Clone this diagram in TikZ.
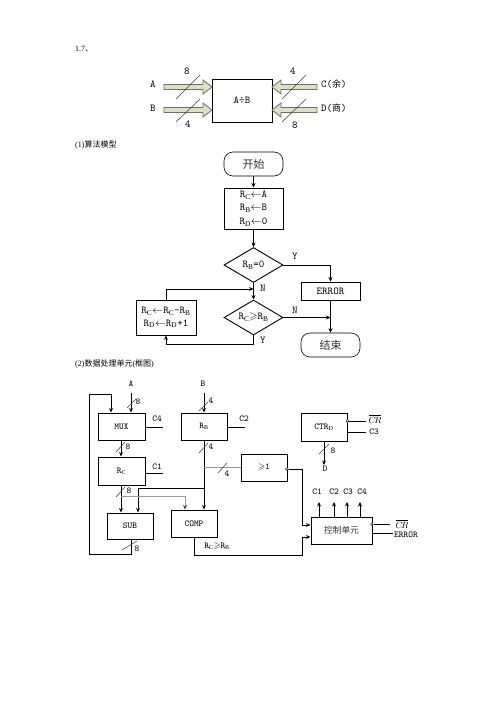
\documentclass[tikz,border=0pt]{standalone}
\usepackage{amssymb}
\usepackage{fontspec}
\setmainfont{Liberation Serif}
\newfontfamily\cjk{Noto Sans CJK SC}
\usetikzlibrary{arrows.meta,shapes.geometric,calc}
\definecolor{fatfill}{HTML}{DDE0C8}
\definecolor{fatedge}{HTML}{6E7260}
\newcommand\fatarrow[3]{\draw[fatstyle] (#1) ++(0,-2.5) -- ++(#2,0) -- ++(0,-4.5) -- ++(#3,7) -- ++(-#3,7) -- ++(0,-4.5) -- ++(-#2,0) -- cycle;}
\newcommand\subl[1]{$_{\mathrm{#1}}$}
\tikzset{
  x=1pt,y=-1pt,
  line/.style={line width=1pt,black},
  arr/.style={line,-{Stealth[length=4.5pt,width=4pt]}},
  thinline/.style={line width=0.55pt,black!75},
  grayline/.style={line width=0.9pt,black!40},
  grayarr/.style={grayline,-{Stealth[length=4.5pt,width=4pt,color=black!75]}},
  fatstyle/.style={draw=fatedge,fill=fatfill,line width=0.8pt},
  box/.style={draw,line width=1pt,rectangle,inner sep=0pt,align=center,font=\ttfamily\fontsize{10.5}{12.5}\selectfont},
  sbox/.style={draw,line width=1pt,rectangle,inner sep=0pt,align=center,font=\ttfamily\fontsize{9}{10}\selectfont},
  term/.style={draw,line width=0.6pt,rectangle,rounded corners=9pt,inner sep=0pt,minimum width=59pt,minimum height=24pt,font=\cjk\fontsize{11}{13}\selectfont,text=black!80},
  dia/.style={draw,line width=0.9pt,diamond,aspect=1.69,inner sep=0pt,minimum width=59pt,minimum height=35pt,font=\ttfamily\fontsize{10.5}{12}\selectfont},
  lab/.style={inner sep=0pt,font=\ttfamily\fontsize{10.5}{12}\selectfont},
  slab/.style={inner sep=0pt,font=\ttfamily\fontsize{9}{10}\selectfont},
  txt/.style={inner sep=0pt,anchor=west,font=\fontsize{8}{10}\selectfont},
  bub/.style={circle,draw,line width=0.5pt,fill=white,inner sep=0pt,minimum size=2.8pt},
}
\begin{document}
\begin{tikzpicture}
\useasboundingbox (0,0) rectangle (496,702);
% headings
\node[txt] (t1) at (75,49) {1.7{\cjk 、}};
\node[txt] (t2) at (75,145) {(1){\cjk 算法模型}};
\node[txt] (t3) at (75,364) {(2){\cjk 数据处理单元}({\cjk 框图})};

% --- block ---
\node[box,minimum width=60pt,minimum height=43pt] (div) at (242,100.5) {A÷B};
\coordinate (ain) at (164,87); \coordinate (bin) at (164,110);
\coordinate (cin) at (317,87); \coordinate (din) at (317,110);
\fatarrow{ain}{39}{9} \fatarrow{bin}{39}{9}
\fatarrow{cin}{-36}{-9} \fatarrow{din}{-36}{-9}
\coordinate (s1a) at (176,99); \coordinate (s1b) at (200,75);
\coordinate (s2a) at (176,122); \coordinate (s2b) at (200,99);
\coordinate (s3a) at (282,99); \coordinate (s3b) at (306,75);
\coordinate (s4a) at (282,122); \coordinate (s4b) at (306,99);
\draw[thinline] (s1a)--(s1b); \draw[thinline] (s2a)--(s2b);
\draw[thinline] (s3a)--(s3b); \draw[thinline] (s4a)--(s4b);
\node[lab] (l8a) at (187,71) {8};
\node[lab] (l4a) at (188,124.5) {4};
\node[lab] (l4b) at (293,71) {4};
\node[lab] (l8b) at (295,125) {8};
\node[lab] (la) at (153,84) {A};
\node[lab] (lb) at (153,108) {B};
\node[lab,anchor=west] (lc) at (321,84) {C({\cjk\fontsize{9}{10}\selectfont 余})};
\node[lab,anchor=west] (ld) at (321,108) {D({\cjk\fontsize{9}{10}\selectfont 商})};

% --- flowchart ---
\node[term] (start) at (253.5,164) {开始};
\node[box,minimum width=59pt,minimum height=41pt,font=\ttfamily\fontsize{10.5}{13.5}\selectfont] (init) at (253.5,208.5)
  {R\subl{C}$\leftarrow$A\\R\subl{B}$\leftarrow$B\\R\subl{D}$\leftarrow$0};
\node[dia] (d1) at (253.5,265) {R\subl{B}=0};
\node[dia] (d2) at (253.5,317.5) {R\subl{C}$\geqslant$R\subl{B}};
\node[box,minimum width=60pt,minimum height=35pt] (upd) at (166,317.5)
  {R\subl{C}$\leftarrow$R\subl{C}-R\subl{B}\\R\subl{D}$\leftarrow$R\subl{D}+1};
\node[box,minimum width=59pt,minimum height=18pt] (err) at (330.5,291) {ERROR};
\node[term] (end) at (330.5,345) {结束};
\draw[arr] (start)--(init);
\draw[arr] (init)--(d1);
\draw[arr] (d1.east)-|(err.north);
\draw[arr] (d1.south)--(d2.north);
\draw[arr] (err)--(end);
\draw[arr] (d2.east)--(d2.east-|err);
\coordinate (ubot) at (d2.south|-0,344);
\draw[arr] (d2.south)--(ubot)-|(upd.south);
\coordinate (jn) at (d2.north|-0,289);
\draw[arr] (upd.north)|-(jn);
\node[lab] (ly1) at (295,256) {Y};
\node[lab] (ln1) at (263,288) {N};
\node[lab] (ln2) at (295,310) {N};
\node[lab] (ly2) at (263,340) {Y};

% --- data unit ---
\node[sbox,minimum width=47pt,minimum height=27pt] (mux) at (121.5,426.5) {MUX};
\node[sbox,minimum width=46pt,minimum height=27pt] (rb) at (204,426.5) {R\subl{B}};
\node[sbox,minimum width=47pt,minimum height=28pt] (rc) at (121.5,471) {R\subl{C}};
\node[sbox,minimum width=46pt,minimum height=26pt] (sub) at (130,526) {SUB};
\node[sbox,minimum width=46pt,minimum height=27pt] (comp) at (194,523.5) {COMP};
\node[sbox,minimum width=46pt,minimum height=28pt] (ctr) at (324,427) {CTR\subl{D}};
\node[sbox,minimum width=46pt,minimum height=27pt] (ge) at (264,467.5) {$\geqslant$1};
\node[sbox,minimum width=61pt,minimum height=27pt,font=\cjk\fontsize{8.7}{10}\selectfont,text=black!80] (ctl) at (341.5,530.5) {控制单元};

\node[slab] (na) at (131,384) {A};
\node[slab] (nb) at (203,384) {B};
\coordinate (ta) at (131,393); \coordinate (tb) at (204,393);
\draw[arr] (ta)--(ta|-mux.north);
\draw[arr] (tb)--(tb|-rb.north);
% feedback
\coordinate (fb1) at (131,554); \coordinate (fb2) at (89,554); \coordinate (fb3) at (89,394); \coordinate (fb4) at (111,394);
\draw[arr] (fb1|-sub.south)--(fb1)--(fb2)--(fb3)--(fb4)--(fb4|-mux.north);
% side lines
\coordinate (c4e) at (163,427); \coordinate (c1e) at (163,473); \coordinate (c2e) at (245,427);
\draw[line] (mux.east|-c4e)--(c4e);
\draw[line] (rc.east|-c1e)--(c1e);
\draw[line] (rb.east|-c2e)--(c2e);
\node[slab] (lc4) at (157,419) {C4};
\node[slab] (lc1) at (157,467) {C1};
\node[slab] (lc2) at (244,419) {C2};
% vertical links
\coordinate (v1) at (121,440);
\draw[arr] (v1|-mux.south)--(v1|-rc.north);
\draw[arr] (v1|-rc.south)--(v1|-sub.north);
\draw[arr] (rb.south)--(rb.south|-comp.north);
\coordinate (j1) at (204,488); \coordinate (j2) at (138,488);
\draw[arr] (j1)--(j2)--(j2|-sub.north);
\coordinate (g1) at (121,496); \coordinate (g2) at (185,496);
\draw[grayarr] (g1)--(g2)--(g2|-comp.north);
\coordinate (g3) at (204,467);
\draw[grayline] (g3)--(g3-|ge.west);
% slashes
\foreach \a/\b/\c/\d in {127/408/136/399,199/411/208/402,116/452/125/442,199/453/208/443,218/473/227/463,116/497/125/487,122/550/137/541,319/454/329/444}
  \draw[thinline] (\a,\b)--(\c,\d);
\node[slab] at (138,402) {8};
\node[slab] at (211,401) {4};
\node[slab] at (128,447) {8};
\node[slab] at (211,447) {4};
\node[slab] at (227,474) {4};
\node[slab] at (129,491) {8};
\node[slab] at (137,549) {8};
\node[slab] at (333,451) {8};
% CTR
\node[bub] (b1) at (347.5,421) {};
\coordinate (e1) at (366,421); \coordinate (e2) at (366,432);
\draw[line] (b1)--(e1);
\draw[line] (ctr.east|-e2)--(e2);
\node[slab] (lcr1) at (375,419) {$\overline{C\!R}$};
\node[slab] (lc3) at (374,432) {C3};
\coordinate (dout) at (324,465);
\draw[arr] (ctr.south)--(dout);
\node[slab] (ld2) at (325,468.5) {D};
% >=1 to control
\node[bub] (b2) at (287,469) {};
\coordinate (k1) at (302,469); \coordinate (k2) at (302,525);
\draw[arr] (b2)--(k1)--(k2)--(k2-|ctl.west);
\coordinate (m1) at (194,555); \coordinate (m2) at (302,555); \coordinate (m3) at (302,537);
\draw[arr] (comp.south)--(m1)--(m2)--(m3)--(m3-|ctl.west);
\node[slab] (lge) at (217,546.5) {R\subl{C}$\geqslant$R\subl{B}};
% control outs
\foreach \x/\n in {319/1,334/2,347/3}{
  \coordinate (u\n) at (\x,502);
  \draw[arr] (u\n|-ctl.north)--(u\n);
}
\coordinate (u4) at (360,502);
\draw[arr,line width=0.5pt] (u4|-ctl.north)--(u4);
\node[slab] (uc1) at (317,492) {C1};
\node[slab] (uc2) at (334,492) {C2};
\node[slab] (uc3) at (348,492) {C3};
\node[slab] (uc4) at (362,492) {C4};
\node[bub] (b3) at (372,524) {};
\coordinate (e3) at (390,524); \coordinate (e4) at (393,533.5);
\draw[line] (b3)--(e3);
\draw[line] (ctl.east|-e4)--(e4);
\node[slab] (lcr2) at (402,524) {$\overline{C\!R}$};
\node[slab] (lerr) at (406,535) {ERROR};
\end{tikzpicture}
\end{document}
